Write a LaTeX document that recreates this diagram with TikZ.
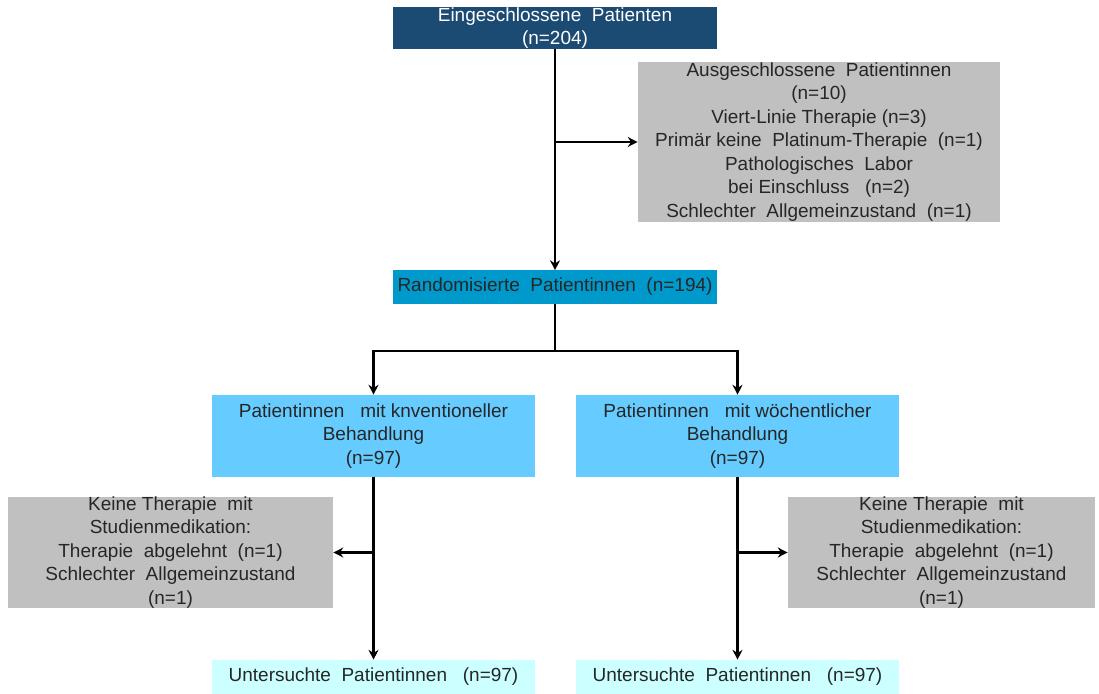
\documentclass[tikz,border=0pt]{standalone}
\usepackage{fontspec}
\setmainfont{Liberation Sans}
\usetikzlibrary{arrows.meta}
\definecolor{navyblue}{HTML}{1B4A73}
\definecolor{randblue}{HTML}{0099CC}
\definecolor{armblue}{HTML}{66CCFF}
\definecolor{endcyan}{HTML}{CCFFFF}
\definecolor{exclgray}{HTML}{C0C0C0}
\begin{document}
\begin{tikzpicture}[x=0.025cm,y=-0.025cm,
    box/.style={rectangle,align=center,inner sep=0pt,text=black!85,
      font=\fontsize{13.5}{16.7}\selectfont},
    ln/.style={line width=1.6pt},
    arr/.style={line width=1.6pt,-{Stealth[length=7pt,width=7pt]}}]
    \useasboundingbox (0,0) rectangle (1099,694);
    \node[box,fill=navyblue,text=white,minimum width=8.1cm,minimum height=1cm] (top) at (555,28)
        {Eingeschlossene\ \ Patienten\\(n=204)};
    \node[box,fill=exclgray,minimum width=9.05cm,minimum height=4cm] (excl) at (819,142)
        {Ausgeschlossene\ \ Patientinnen\\(n=10)\\Viert-Linie Therapie (n=3)\\
         Primär keine\ \ Platinum-Therapie\ \ (n=1)\\Pathologisches\ \ Labor\\
         bei Einschluss\ \ \ (n=2)\\Schlechter\ \ Allgemeinzustand\ \ (n=1)};
    \node[box,fill=randblue,minimum width=8.1cm,minimum height=0.825cm] (rand) at (555,287)
        {Randomisierte\ \ Patientinnen\ \ (n=194)};
    \node[box,fill=armblue,minimum width=8.075cm,minimum height=2.05cm] (armL) at (373.5,436)
        {Patientinnen\ \ \ mit knventioneller\\Behandlung\\(n=97)};
    \node[box,fill=armblue,minimum width=8.075cm,minimum height=2.05cm] (armR) at (737.5,436)
        {Patientinnen\ \ \ mit wöchentlicher\\Behandlung\\(n=97)};
    \node[box,fill=exclgray,minimum width=8.125cm,minimum height=2.775cm] (dropL) at (170.5,552.5)
        {Keine Therapie\ \ mit\\Studienmedikation:\\Therapie\ \ abgelehnt\ \ (n=1)\\
         Schlechter\ \ Allgemeinzustand\\(n=1)};
    \node[box,fill=exclgray,minimum width=7.675cm,minimum height=2.775cm] (dropR) at (941.5,552.5)
        {Keine Therapie\ \ mit\\Studienmedikation:\\Therapie\ \ abgelehnt\ \ (n=1)\\
         Schlechter\ \ Allgemeinzustand\\(n=1)};
    \node[box,fill=endcyan,minimum width=8.075cm,minimum height=0.85cm] (endL) at (373.5,677)
        {Untersuchte\ \ Patientinnen\ \ \ (n=97)};
    \node[box,fill=endcyan,minimum width=8.075cm,minimum height=0.85cm] (endR) at (737.5,677)
        {Untersuchte\ \ Patientinnen\ \ \ (n=97)};
    \draw[arr] (top) -- (rand);
    \draw[arr] (top.south |- excl.west) -- (excl.west);
    \draw[ln] (rand.south) -- ++(0,47) coordinate (split);
    \draw[arr] (split) -| (armL);
    \draw[arr] (split) -| (armR);
    \draw[arr] (armL) -- (endL);
    \draw[arr] (armR) -- (endR);
    \draw[arr] (armL.south |- dropL.east) -- (dropL.east);
    \draw[arr] (armR.south |- dropR.west) -- (dropR.west);
\end{tikzpicture}
\end{document}
